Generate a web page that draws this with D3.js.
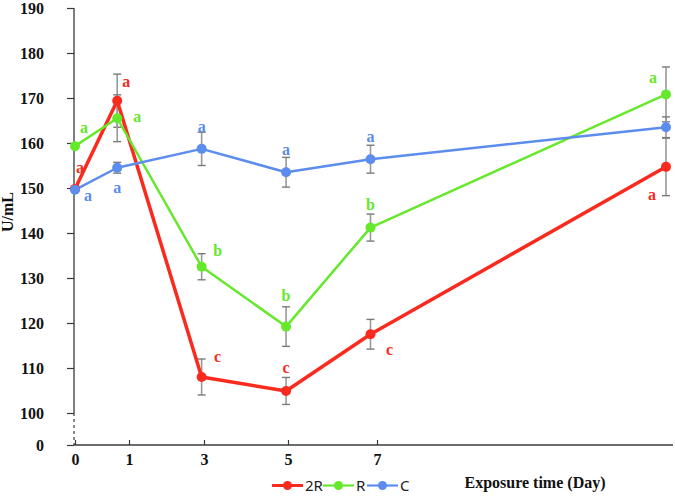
<!DOCTYPE html>
<html><head><meta charset="utf-8">
<script src="https://cdn.jsdelivr.net/npm/d3@7"></script>
<style>body{margin:0;background:#fff}svg{display:block}</style>
</head><body><svg id="c" width="675" height="496"></svg>
<script>
const days = [0, 1, 3, 5, 7, 14];
const tickDays = [0, 1, 3, 5, 7];
const yTicks = [0, 100, 110, 120, 130, 140, 150, 160, 170, 180, 190];
const seriesNames = ["2R", "R", "C"];
const val2R = [149.8, 169.4, 108.0, 104.9, 117.5, 154.7];
const err2R = [0, 5.9, 4.0, 3.0, 3.3, 6.4];
const valR = [159.3, 165.5, 132.5, 119.2, 141.2, 170.8];
const errR = [0, 5.2, 2.9, 4.4, 3.0, 6.1];
const valC = [149.6, 154.5, 158.7, 153.5, 156.4, 163.5];
const errC = [0, 1.2, 3.7, 3.3, 3.1, 2.3];
const letters2R = ["a", "a", "c", "c", "c", "a"];
const lettersR = ["a", "a", "b", "b", "b", "a"];
const lettersC = ["a", "a", "a", "a", "a", ""];

const colors = {"2R": "#fa2a1e", "R": "#66e82c", "C": "#5b8cee"};
const widths = {"2R": 3.5, "R": 2.5, "C": 2.5};
// label offsets (px) relative to point, per series & index
const offs = {
  "2R": [[5,-21],[9,-19],[16,-20],[0,-23],[19,16],[-14,28]],
  "R":  [[9,-18],[20,-1],[16,-16],[0,-31],[0,-23],[-13,-16]],
  "C":  [[13,6],[0,20],[0,-22],[0,-22],[0,-22],[0,0]]
};

const svg = d3.select("#c");
const x = d3.scaleLinear().domain([0, 14]).range([75, 666]);
const xAxisScale = d3.scaleLinear().domain([0, 1, 3, 5, 7]).range([75, 129, 204, 288, 377]);
const y = d3.scaleLinear().domain([0, 100, 190]).range([445, 413, 8]);

const axisColor = "#3a3a3a";
const serif = "'Liberation Serif','Times New Roman',serif";

// Y axis
const ya = svg.append("g").attr("transform", "translate(74,0)")
  .call(d3.axisLeft(y).tickValues(yTicks).tickSize(7).tickSizeOuter(0).tickPadding(23));
ya.select(".domain").remove();
ya.selectAll(".tick line").attr("stroke", axisColor).attr("stroke-width", 1.2);
ya.selectAll(".tick text").attr("font-family", serif).attr("font-weight", "bold")
  .attr("font-size", 16).attr("fill", "#111");
svg.append("line").attr("x1", 74).attr("x2", 74).attr("y1", y(190)).attr("y2", y(100))
  .attr("stroke", axisColor).attr("stroke-width", 1.3);
svg.append("line").attr("x1", 74).attr("x2", 74).attr("y1", y(100)).attr("y2", y(0))
  .attr("stroke", axisColor).attr("stroke-width", 1.2).attr("stroke-dasharray", "3,3");

// X axis
const xa = svg.append("g").attr("transform", "translate(0,445)")
  .call(d3.axisBottom(xAxisScale).tickValues(tickDays).tickSize(0).tickPadding(9).tickFormat(d3.format("d")));
xa.select(".domain").remove();
xa.selectAll(".tick text").attr("font-family", serif).attr("font-weight", "bold")
  .attr("font-size", 16).attr("fill", "#111");
xa.selectAll(".tick").append("line").attr("y1", -5).attr("y2", 0)
  .attr("stroke", axisColor).attr("stroke-width", 1.2);
svg.append("line").attr("x1", 74).attr("x2", 673).attr("y1", 445).attr("y2", 445)
  .attr("stroke", axisColor).attr("stroke-width", 1.4);

// axis titles
svg.append("text").attr("transform", "translate(13,212) rotate(-90)")
  .attr("text-anchor", "middle").attr("font-family", serif).attr("font-weight", "bold")
  .attr("font-size", 16).attr("fill", "#111").text("U/mL");
svg.append("text").attr("x", 535).attr("y", 488).attr("text-anchor", "middle")
  .attr("font-family", serif).attr("font-weight", "bold").attr("font-size", 16)
  .attr("fill", "#111").text("Exposure time (Day)");

const series = [
  {name: "2R", vals: val2R, errs: err2R, lets: letters2R},
  {name: "R", vals: valR, errs: errR, lets: lettersR},
  {name: "C", vals: valC, errs: errC, lets: lettersC}
];

// error bars
const eb = svg.append("g");
series.forEach(s => {
  s.vals.forEach((v, i) => {
    if (!s.errs[i]) return;
    const cx = x(days[i]);
    eb.append("line").attr("x1", cx).attr("x2", cx).attr("y1", y(v + s.errs[i])).attr("y2", y(v - s.errs[i]))
      .attr("stroke", "#999").attr("stroke-width", 1.6);
    [v + s.errs[i], v - s.errs[i]].forEach(e => {
      eb.append("line").attr("x1", cx - 4).attr("x2", cx + 4).attr("y1", y(e)).attr("y2", y(e))
        .attr("stroke", "#7a7a7a").attr("stroke-width", 1.4);
    });
  });
});

const line = d3.line().x((d, i) => x(days[i])).y(d => y(d));
series.forEach(s => {
  svg.append("path").datum(s.vals).attr("d", line).attr("fill", "none")
    .attr("stroke", colors[s.name]).attr("stroke-width", widths[s.name]).attr("stroke-linejoin", "round");
});
series.forEach(s => {
  svg.append("g").selectAll("circle").data(s.vals).join("circle")
    .attr("cx", (d, i) => x(days[i])).attr("cy", d => y(d)).attr("r", 5)
    .attr("fill", colors[s.name]);
});
series.forEach(s => {
  svg.append("g").selectAll("text").data(s.vals).join("text")
    .attr("x", (d, i) => x(days[i]) + offs[s.name][i][0])
    .attr("y", (d, i) => y(d) + offs[s.name][i][1] + 5)
    .attr("text-anchor", "middle").attr("font-family", serif).attr("font-weight", "bold")
    .attr("font-size", 16).attr("fill", colors[s.name])
    .text((d, i) => s.lets[i]);
});

// legend
const lg = svg.append("g");
const legX = [272, 323, 367];
seriesNames.forEach((n, i) => {
  const x0 = legX[i];
  lg.append("line").attr("x1", x0).attr("x2", x0 + 31).attr("y1", 485.5).attr("y2", 485.5)
    .attr("stroke", colors[n]).attr("stroke-width", n === "2R" ? 3 : 2.2);
  lg.append("circle").attr("cx", x0 + 15.5).attr("cy", 485.5).attr("r", 4.5).attr("fill", colors[n]);
  lg.append("text").attr("x", x0 + 33).attr("y", 491).attr("font-family", "'Noto Sans','DejaVu Sans',sans-serif")
    .attr("font-size", 15).attr("fill", "#222").text(n);
});
</script></body></html>
